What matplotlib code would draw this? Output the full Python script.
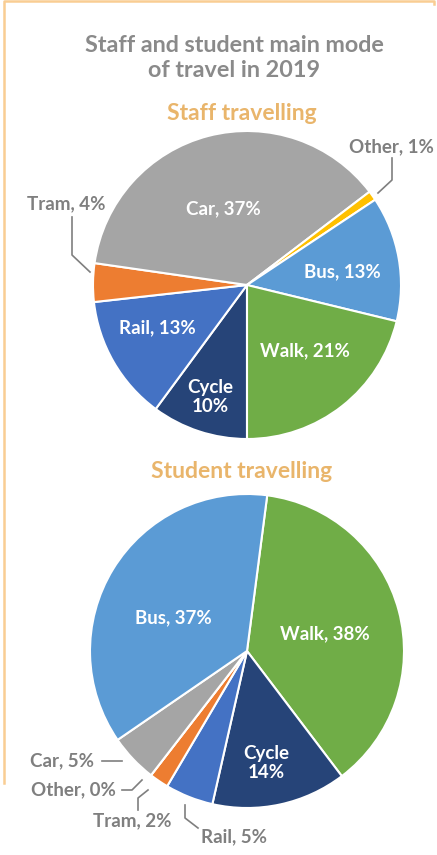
import matplotlib
matplotlib.use("Agg")
from matplotlib import pyplot as plt
from matplotlib.lines import Line2D

plt.rcParams['font.family'] = ['Lato', 'DejaVu Sans']

# 数据：教职工（从底部开始顺时针）
staff_modes = ["Cycle", "Rail", "Tram", "Car", "Other", "Bus", "Walk"]
staff_pct = [10, 13, 4, 37, 1, 13, 21]
# 数据：学生（从Walk开始顺时针）
student_modes = ["Walk", "Cycle", "Rail", "Tram", "Other", "Car", "Bus"]
student_pct = [38, 14, 5, 2, 0, 5, 37]

colors = {"Car": "#A5A5A5", "Other": "#FFC000", "Bus": "#5B9BD5", "Walk": "#70AD47",
          "Cycle": "#264478", "Rail": "#4472C4", "Tram": "#ED7D31"}

W, H = 437, 855
fig = plt.figure(figsize=(W / 100, H / 100), dpi=100)
ax = fig.add_axes([0, 0, 1, 1])

def py(y):  # 像素坐标（从上往下）转成数据坐标
    return H - y

title_col = "#8A8A8A"
sub_col = "#E9B56B"
lab_col = "#7F7F7F"

# 教职工饼图
ax.pie(staff_pct, colors=[colors[m] for m in staff_modes], center=(247, py(285)), radius=154,
       startangle=-90, counterclock=False, frame=True,
       wedgeprops=dict(edgecolor='white', linewidth=1.5))
# 学生饼图
ax.pie(student_pct, colors=[colors[m] for m in student_modes], center=(247, py(651)), radius=157,
       startangle=82.6, counterclock=False, frame=True,
       wedgeprops=dict(edgecolor='white', linewidth=1.5))
ax.set_xlim(0, W)
ax.set_ylim(0, H)
ax.set_aspect('equal')
ax.axis('off')

# 外框线
frame_col = "#F9CD93"
ax.add_line(Line2D([4, 4, 434, 434], [py(783), py(1.5), py(1.5), py(4)], color=frame_col, lw=1.8))

ax.text(234, py(58), "Staff and student main mode\nof travel in 2019", ha='center', va='center',
        fontsize=16.8, color=title_col, fontweight='bold', linespacing=1.2)
ax.text(242, py(113), "Staff travelling", ha='center', va='center', fontsize=16.5,
        color=sub_col, fontweight='bold')
ax.text(242, py(472), "Student travelling", ha='center', va='center', fontsize=16.5,
        color=sub_col, fontweight='bold')

def label(text, x, y, color='white', ha='center'):
    ax.text(x, py(y), text, ha=ha, va='center', fontsize=13.5, color=color,
            fontweight='bold', linespacing=1.1)

# 教职工标签
label("Car, 37%", 223, 209)
label("Bus, 13%", 342, 272)
label("Walk, 21%", 305, 351)
label("Rail, 13%", 157, 328)
label("Cycle\n10%", 210, 397)
label("Other, 1%", 391, 147, lab_col)
label("Tram, 4%", 66, 204, lab_col)
# 学生标签
label("Bus, 37%", 173, 618)
label("Walk, 38%", 325, 634)
label("Cycle\n14%", 266, 763)
label("Car, 5%", 62, 761, lab_col)
label("Other, 0%", 73, 790, lab_col)
label("Tram, 2%", 132, 821, lab_col)
label("Rail, 5%", 234, 837, lab_col)

# 引导线
lc = dict(color=lab_col, lw=1.2)
ax.add_line(Line2D([392, 392, 378], [py(158), py(180), py(193)], **lc))
ax.add_line(Line2D([72, 72, 90], [py(217), py(255), py(272)], **lc))
ax.add_line(Line2D([102, 122], [py(761), py(761)], **lc))
ax.add_line(Line2D([122, 132, 142], [py(790), py(790), py(780)], **lc))
ax.add_line(Line2D([138, 138, 148], [py(810), py(798), py(790)], **lc))
ax.add_line(Line2D([198, 185, 185], [py(828), py(818), py(805)], **lc))

fig.savefig("out.png", dpi=100)
